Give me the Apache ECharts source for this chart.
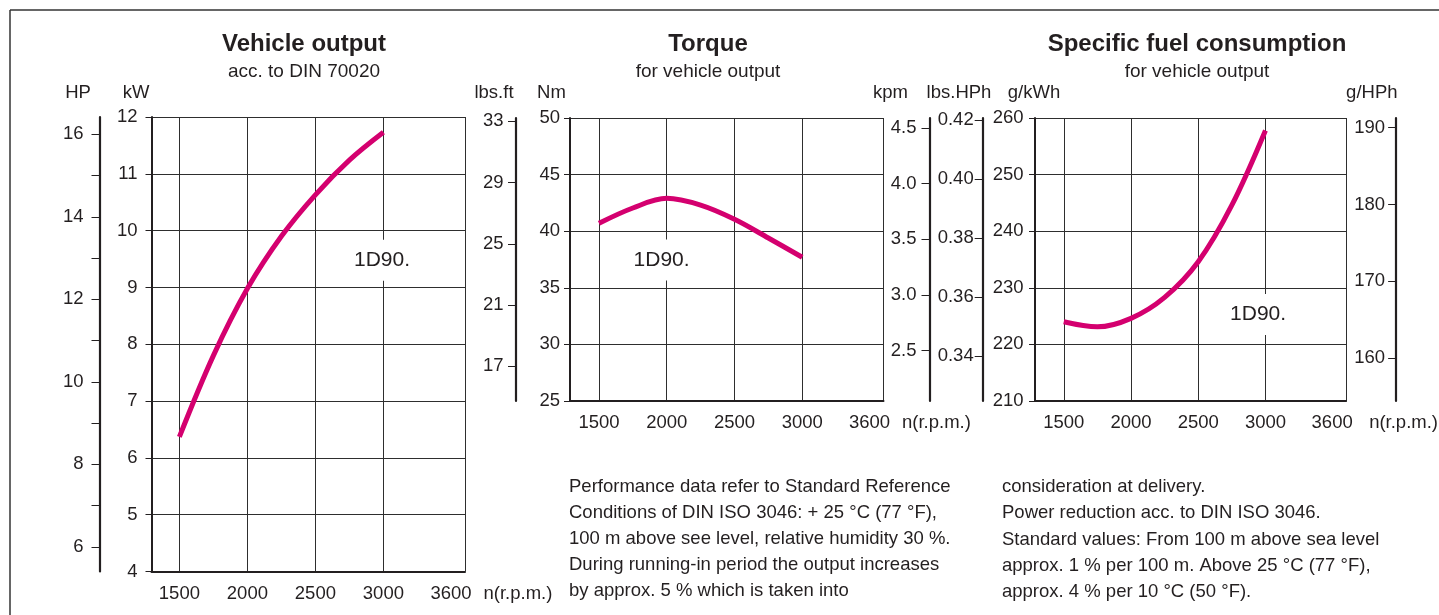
<!DOCTYPE html>
<html><head><meta charset="utf-8">
<script src="https://cdn.jsdelivr.net/npm/echarts@6/dist/echarts.min.js"></script>
<style>html,body{margin:0;padding:0;background:#fff}#c{width:1439px;height:615px}</style>
</head><body><div id="c"></div>
<script>
// ---- data ----
const rpm = [1500, 1750, 2000, 2250, 2500, 2750, 3000];
const outputKW = [6.37, 7.8, 8.98, 9.9, 10.63, 11.24, 11.73];
const torqueNm = [40.7, 42.05, 42.9, 42.3, 41.05, 39.4, 37.7];
const fuelGkWh = [224.0, 223.1, 224.6, 228.3, 234.6, 244.6, 257.8];
// ---- tick labels ----
const rpmTicks = [1500, 2000, 2500, 3000, 3600];
const hpTicks = [6, 7, 8, 9, 10, 11, 12, 13, 14, 15, 16];
const hpLabels = [6, 8, 10, 12, 14, 16];
const lbsftTicks = [17, 21, 25, 29, 33];
const kpmTicks = [2.5, 3.0, 3.5, 4.0, 4.5];
const lbsHPhTicks = [0.34, 0.36, 0.38, 0.40, 0.42];
const gHPhTicks = [160, 170, 180, 190];
const engineName = '1D90.';
const noteLeft = [
  'Performance data refer to Standard Reference',
  'Conditions of DIN ISO 3046: + 25 °C (77 °F),',
  '100 m above see level, relative humidity 30 %.',
  'During running-in period the output increases',
  'by approx. 5 % which is taken into'
];
const noteRight = [
  'consideration at delivery.',
  'Power reduction acc. to DIN ISO 3046.',
  'Standard values: From 100 m above sea level',
  'approx. 1 % per 100 m. Above 25 °C (77 °F),',
  'approx. 4 % per 10 °C (50 °F).'
];
// annotation anchor points (data coordinates)
const labelAtOutput = [2990, 9.48];
const labelAtTorque = [1962, 37.46];
const labelAtFuel = [2945, 225.3];

const FONT = "'Liberation Sans', Arial, sans-serif";
const INK = '#231f20';
const GRIDC = '#2e2e2e';
const CURVE = '#d4006f';
const FS = 18.5;

function xAx(gridIndex, min, nameGap) {
  return {
    type: 'value', gridIndex, min, max: 3600,
    name: 'n(r.p.m.)', nameLocation: 'end', nameGap,
    nameTextStyle: {color: INK, fontSize: FS, fontFamily: FONT, verticalAlign: 'top', padding: [12.5, 0, 0, 0]},
    axisLine: {show: true, onZero: false, lineStyle: {color: INK, width: 2}},
    axisTick: {show: false, customValues: rpmTicks},
    axisLabel: {
      customValues: rpmTicks, margin: 12.5, color: INK, fontSize: FS, fontFamily: FONT,
      formatter: v => v === 3600 ? '{e|3600}' : String(v),
      rich: {e: {padding: [0, 28, 0, 0], fontSize: FS, fontFamily: FONT, color: INK}}
    },
    splitLine: {show: true, lineStyle: {color: GRIDC, width: 1}}
  };
}
function namePad(shift) {
  return [0, shift > 0 ? 0 : -2 * shift, 0, shift > 0 ? 2 * shift : 0];
}
function yMain(gridIndex, min, max, interval, name, shift, gap, margin) {
  return {
    type: 'value', gridIndex, min, max, interval, position: 'left',
    name, nameLocation: 'end', nameGap: gap,
    nameTextStyle: {color: INK, fontSize: FS, fontFamily: FONT, align: 'center', verticalAlign: 'middle', padding: namePad(shift)},
    axisLine: {show: true, onZero: false, lineStyle: {color: INK, width: 2}},
    axisTick: {show: true, length: 6, lineStyle: {color: INK, width: 1}},
    axisLabel: {margin, color: INK, fontSize: FS, fontFamily: FONT},
    splitLine: {show: true, lineStyle: {color: GRIDC, width: 1}}
  };
}
function ySide(gridIndex, min, max, position, offset, ticks, labels, fmt, name, shift, gap, margin) {
  const inside = position === 'right';
  return {
    type: 'value', gridIndex, min, max, position, offset,
    name, nameLocation: 'end', nameGap: gap,
    nameTextStyle: {color: INK, fontSize: FS, fontFamily: FONT, align: 'center', verticalAlign: 'middle', padding: namePad(shift)},
    axisLine: {show: true, onZero: false, lineStyle: {color: INK, width: 2.2}},
    axisTick: {show: true, inside, length: 8, customValues: ticks, lineStyle: {color: INK, width: 1}},
    axisLabel: {inside, customValues: labels, margin, color: INK, fontSize: FS, fontFamily: FONT, formatter: fmt},
    splitLine: {show: false}
  };
}
function mark(coord, pad) {
  return {
    symbol: 'rect', symbolSize: 1, silent: true,
    itemStyle: {color: 'rgba(0,0,0,0)'},
    label: {show: true, position: 'inside', formatter: engineName, fontSize: 21, fontFamily: FONT,
      color: INK, backgroundColor: '#fff', padding: pad},
    data: [{coord}]
  };
}
function curve(xi, yi, values, coord, pad) {
  return {
    type: 'line', xAxisIndex: xi, yAxisIndex: yi, smooth: 0.35, showSymbol: false,
    lineStyle: {color: CURVE, width: 5}, itemStyle: {color: CURVE},
    data: rpm.map((r, i) => [r, values[i]]),
    markPoint: mark(coord, pad), z: 3
  };
}
const titleStyle = {color: INK, fontSize: 24, fontWeight: 'bold', fontFamily: FONT};
const subStyle = {color: INK, fontSize: 19, fontFamily: FONT};

const option = {
  animation: false,
  backgroundColor: '#fff',
  title: [
    {text: 'Vehicle output', subtext: 'acc. to DIN 70020', left: 304, top: 32, padding: 0, itemGap: 6, textAlign: 'center', textStyle: titleStyle, subtextStyle: subStyle},
    {text: 'Torque', subtext: 'for vehicle output', left: 708, top: 32, padding: 0, itemGap: 6, textAlign: 'center', textStyle: titleStyle, subtextStyle: subStyle},
    {text: 'Specific fuel consumption', subtext: 'for vehicle output', left: 1197, top: 32, padding: 0, itemGap: 6, textAlign: 'center', textStyle: titleStyle, subtextStyle: subStyle}
  ],
  grid: [
    {left: 151.5, top: 117, width: 313.5, height: 454.5},
    {left: 570, top: 118, width: 313.5, height: 283},
    {left: 1035, top: 118, width: 314.3, height: 283}
  ],
  xAxis: [xAx(0, 1295, 18.5), xAx(1, 1286, 18.5), xAx(2, 1286, 23)],
  yAxis: [
    yMain(0, 4, 12, 1, 'kW', -15.5, 24, 14),
    ySide(0, 5.40, 16.42, 'left', 52, hpTicks, hpLabels, v => String(v), 'HP', -21.5, 24, 16),
    yMain(1, 25, 50, 5, 'Nm', -18.5, 25.5, 10),
    ySide(1, 14.74, 33.22, 'left', 54, lbsftTicks, lbsftTicks, v => String(v), 'lbs.ft', -22, 25.5, 12.5),
    ySide(1, 2.048, 4.59, 'right', 46, kpmTicks, kpmTicks, v => v.toFixed(1), 'kpm', -39, 25.5, 13),
    yMain(2, 210, 260, 10, 'g/kWh', -1, 25.5, 11.5),
    ySide(2, 0.3247, 0.4206, 'left', 52.3, lbsHPhTicks, lbsHPhTicks, v => v.toFixed(2), 'lbs.HPh', -23.7, 25.5, 9),
    ySide(2, 154.46, 191.23, 'right', 50, gHPhTicks, gHPhTicks, v => String(v), 'g/HPh', -24.3, 25.5, 11)
  ],
  series: [
    curve(0, 0, outputKW, labelAtOutput, [10, 3]),
    curve(1, 2, torqueNm, labelAtTorque, [10, 3]),
    curve(2, 5, fuelGkWh, labelAtFuel, [10, 3])
  ],
  graphic: [
    {type: 'line', silent: true, shape: {x1: 10, y1: 10, x2: 1439, y2: 10}, style: {stroke: '#333', lineWidth: 1.5}},
    {type: 'line', silent: true, shape: {x1: 10, y1: 10, x2: 10, y2: 615}, style: {stroke: '#333', lineWidth: 1.5}},
    {type: 'text', silent: true, x: 569, y: 474, style: {text: noteLeft.join('\n'), font: '18.5px ' + FONT, fill: INK, lineHeight: 25.9, verticalAlign: 'top'}},
    {type: 'text', silent: true, x: 1002, y: 474, style: {text: noteRight.join('\n'), font: '18.5px ' + FONT, fill: INK, lineHeight: 26.2, verticalAlign: 'top'}}
  ]
};
const chart = echarts.init(document.getElementById('c'), null, {renderer: 'canvas'});
chart.setOption(option);
</script>
</body></html>
